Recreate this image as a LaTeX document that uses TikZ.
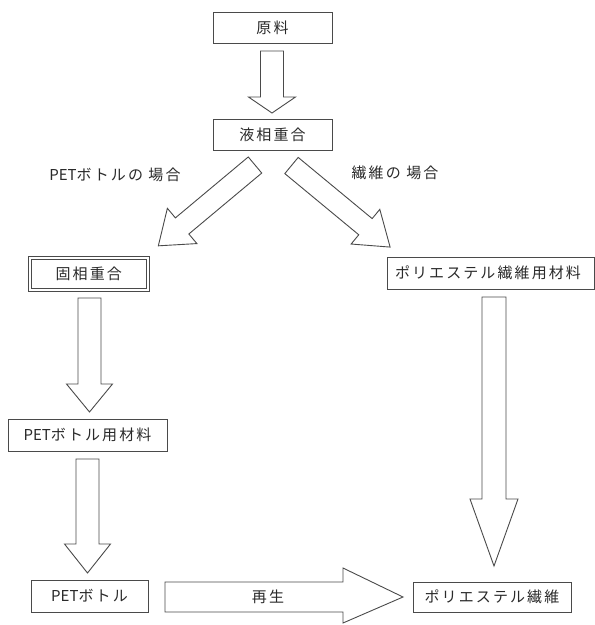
\documentclass[tikz,border=0pt]{standalone}
\usepackage{fontspec}
\newfontfamily\jp[LetterSpace=14]{Noto Sans CJK JP}
\newfontfamily\jpl{Noto Sans CJK JP}
\newcommand{\pet}{{\jpl PET}}
\definecolor{ln}{HTML}{4A4A4A}
\definecolor{tx}{HTML}{2A2A2A}
\newcommand{\vblk}[6]{%
  \draw[blk] ({#1-#5},#2) -- ({#1+#5},#2) -- ({#1+#5},#3) -- ({#1+#6},#3) -- (#1,#4) -- ({#1-#6},#3) -- ({#1-#5},#3) -- cycle;}
\begin{document}
\begin{tikzpicture}[x=1pt,y=-1pt,
  box/.style={draw=ln,line width=0.9pt,fill=white,inner sep=0pt,font=\jp\fontsize{15}{18}\selectfont,text=tx},
  blk/.style={draw=ln,line width=0.9pt,fill=white,line join=miter},
  lbl/.style={inner sep=0pt,font=\jp\fontsize{15}{18}\selectfont,text=tx}]
\useasboundingbox[fill=white] (0,0) rectangle (595,625);
% boxes
\node[box,minimum width=119pt,minimum height=31pt] (raw) at (272.5,27.5) {原料};
\node[box,minimum width=119pt,minimum height=31pt] (liq) at (272.5,134.5) {液相重合};
\node[box,minimum width=118pt,minimum height=32.3pt,line width=1pt,double=white,double distance=2.4pt] (solid) at (88.8,274) {固相重合};
\node[box,minimum width=207pt,minimum height=32pt] (fmat) at (490.5,273) {};
\node[lbl] (fmatt) at (488,273) {ポリエステル繊維用材料};
\node[box,minimum width=159pt,minimum height=32pt] (pmat) at (87.5,435) {\pet ボトル用材料};
\node[box,minimum width=117pt,minimum height=32pt] (pet) at (89.5,596) {\pet ボトル};
\node[box,minimum width=158pt,minimum height=30pt] (fiber) at (492,597) {ポリエステル繊維};
% vertical block arrows
\vblk{272}{51}{97}{113}{11.5}{23.5}
\vblk{89.5}{298}{384}{412}{11.5}{23}
\vblk{87.5}{459}{544}{573}{11.5}{23}
\vblk{494}{297}{499}{566}{12}{24}
% horizontal block arrow
\draw[blk] (165,582) -- (343,582) -- (343,568) -- (403,597) -- (343,623) -- (343,612) -- (165,612) -- cycle;
\node[lbl] (regen) at (268,597) {再生};
% diagonal block arrows
\begin{scope}[shift={(255,165)},rotate=219.9]
\draw[blk] (0,-10.5) -- (95,-10.5) -- (95,-23) -- (126,0) -- (95,23) -- (95,10.5) -- (0,10.5) -- cycle;
\end{scope}
\begin{scope}[shift={(291.5,165.5)},rotate=-39.6]
\draw[blk] (0,-10.5) -- (96,-10.5) -- (96,-22.5) -- (128,0) -- (96,22.5) -- (96,10.5) -- (0,10.5) -- cycle;
\end{scope}
\node[lbl] (lpet) at (115,175) {\pet ボトルの 場合};
\node[lbl] (lfib) at (395,173) {繊維の 場合};
\end{tikzpicture}
\end{document}
